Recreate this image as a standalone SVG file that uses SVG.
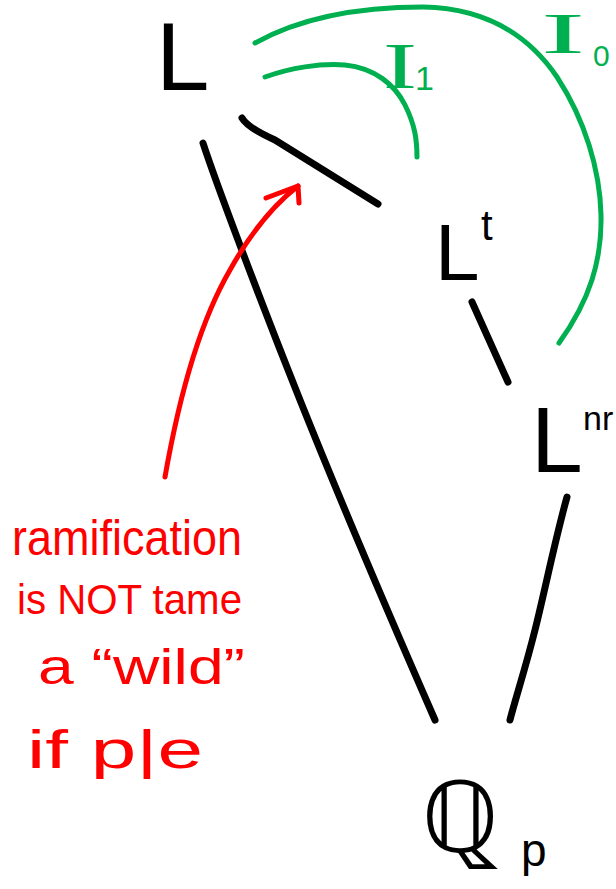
<svg xmlns="http://www.w3.org/2000/svg" width="616" height="889" viewBox="0 0 616 889">
<style>
.blk{fill:none;stroke:#000;stroke-width:7;stroke-linecap:round;stroke-linejoin:round}
.grn{fill:none;stroke:#00b050;stroke-width:5;stroke-linecap:round;stroke-linejoin:round}
.red{fill:none;stroke:#ff0000;stroke-width:5;stroke-linecap:round;stroke-linejoin:round}
.lbl{font-family:"Liberation Sans",Arial,sans-serif;fill:#000}
.glb{font-family:"Liberation Serif","Times New Roman",serif;fill:#00b050}
.gsub{font-family:"Liberation Sans",Arial,sans-serif;fill:#00b050}
.note{font-family:"Liberation Sans",Arial,sans-serif;fill:#ff0000}
</style>
<rect width="616" height="889" fill="#fff"/>
<g id="connectors">
<path class="blk" d="M203,143 C215,180 260,300 300,400 C340,500 400,640 435,720"/>
<path class="blk" d="M242,118 Q248,128 275,140 L378,204"/>
<path class="blk" d="M472,302 L508,382"/>
<path class="blk" d="M567,497 C555,540 545,590 535,630 C525,670 515,700 510,720"/>
<path class="grn" d="M255,43 C300,18 360,7 423,7 C480,8 525,30 557,77 C585,120 600,170 601,215 C602,260 590,300 559,343"/>
<path class="grn" d="M265,77 C290,68 320,63 345,65 C375,68 395,85 405,105 C415,125 417,140 417,157"/>
<path class="red" d="M165,477 C175,420 195,330 230,270 C255,225 280,200 298,186"/>
<path class="red" d="M266,198 L298,186 L299,203"/>
</g>
<g id="node-L"><text class="lbl" x="156" y="90" font-size="96">L</text></g>
<g id="node-Lt"><text class="lbl" x="435" y="280" font-size="80">L</text><text class="lbl" x="481" y="240" font-size="42">t</text></g>
<g id="node-Lnr"><text class="lbl" x="531" y="472" font-size="93">L</text><text class="lbl" x="583" y="430" font-size="34">nr</text></g>
<g id="node-Qp"><text class="lbl" x="421" y="852" font-size="100" font-family="DejaVu Sans">ℚ</text><text class="lbl" x="521" y="866" font-size="46">p</text></g>
<g id="label-I1"><text class="glb" x="383" y="88" font-size="66" textLength="34" lengthAdjust="spacingAndGlyphs">I</text><text class="gsub" x="415" y="90" font-size="34">1</text></g>
<g id="label-I0"><text class="glb" x="541" y="53" font-size="56" textLength="44" lengthAdjust="spacingAndGlyphs">I</text><text class="gsub" x="593" y="66" font-size="30">0</text></g>
<g id="note">
<text class="note" x="12" y="555" font-size="50" textLength="230" lengthAdjust="spacingAndGlyphs">ramification</text>
<text class="note" x="17" y="614" font-size="42" textLength="225" lengthAdjust="spacingAndGlyphs">is NOT tame</text>
<text class="note" x="38" y="684" font-size="50" textLength="207" lengthAdjust="spacingAndGlyphs">a “wild”</text>
<text class="note" x="27" y="768" font-size="54" textLength="176" lengthAdjust="spacingAndGlyphs">if p|e</text>
</g>
</svg>
